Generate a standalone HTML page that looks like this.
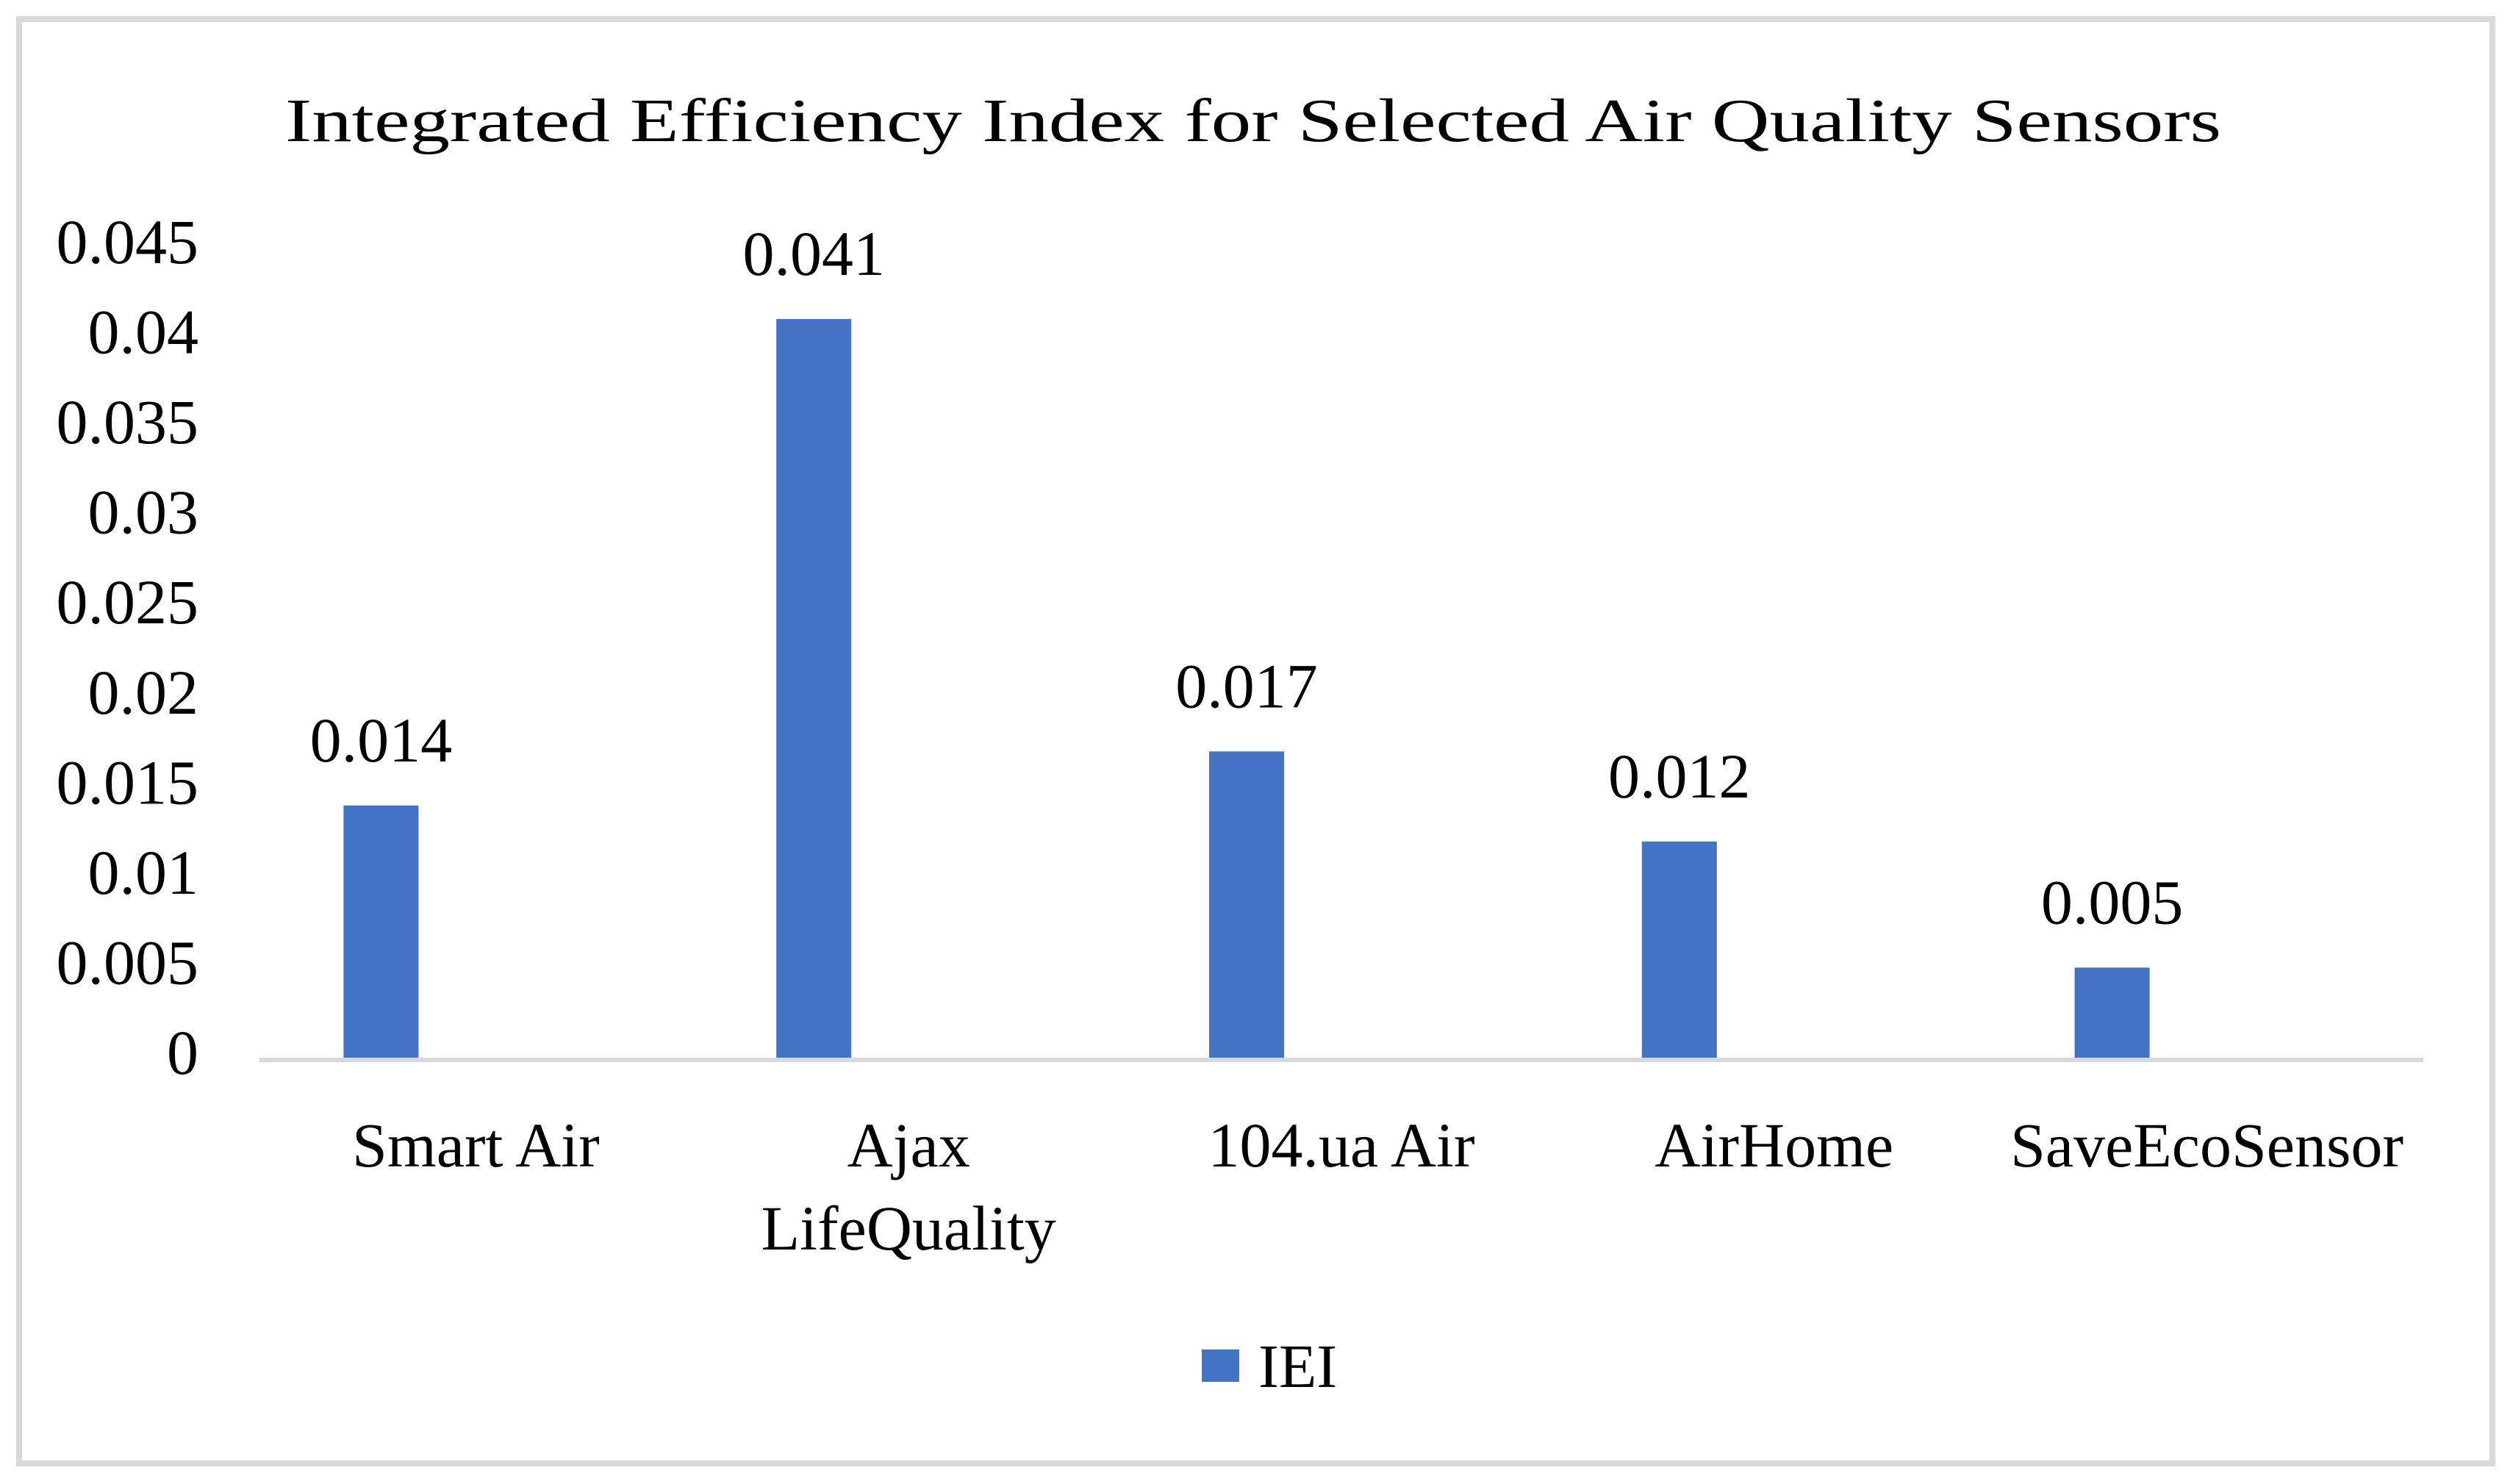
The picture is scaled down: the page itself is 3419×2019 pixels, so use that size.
<!DOCTYPE html>
<html><head><meta charset="utf-8"><style>
html,body{margin:0;padding:0;background:#fff;}
svg{display:block;}
text{font-family:"Liberation Serif",serif;fill:#000;}
</style></head><body>
<svg id="chart" width="3419" height="2019" viewBox="0 0 3419 2019" xmlns="http://www.w3.org/2000/svg">
<rect x="26" y="26" width="3365" height="1965" fill="#fff" stroke="#d9d9d9" stroke-width="8"/>
<text x="1705" y="192" font-size="84" text-anchor="middle" textLength="2634" lengthAdjust="spacingAndGlyphs">Integrated  Efficiency Index  for Selected Air Quality Sensors</text>
<g id="yaxis"></g>
<g id="bars"></g>
<g id="xaxis"></g>
<g>
<rect x="1635" y="1836" width="51" height="44" fill="#4472c4"/>
<text x="1712" y="1887" font-size="84">IEI</text>
</g>
</svg>
<script>
const categories = [["Smart Air"], ["Ajax", "LifeQuality"], ["104.ua Air"], ["AirHome"], ["SaveEcoSensor"]];
const values = [0.014, 0.041, 0.017, 0.012, 0.005];
const valueLabels = ["0.014", "0.041", "0.017", "0.012", "0.005"];
const yTicks = [0, 0.005, 0.01, 0.015, 0.02, 0.025, 0.03, 0.035, 0.04, 0.045];
const yTickLabels = ["0", "0.005", "0.01", "0.015", "0.02", "0.025", "0.03", "0.035", "0.04", "0.045"];

const NS = "http://www.w3.org/2000/svg";
const plotL = 353, plotR = 3297, baseY = 1439, topY = 336, yMax = 0.045;
const y = v => baseY - (v / yMax) * (baseY - topY);
const band = (plotR - plotL) / categories.length;
const xc = i => plotL + band * (i + 0.5);
const barW = 102, barOff = -129;

function mk(tag, attrs, parent) {
  const e = document.createElementNS(NS, tag);
  for (const k in attrs) e.setAttribute(k, attrs[k]);
  parent.appendChild(e);
  return e;
}
const yG = document.getElementById('yaxis');
yTicks.forEach((t, i) => {
  const tx = mk('text', {x: 270, y: y(t) + 22, 'font-size': 86, 'text-anchor': 'end'}, yG);
  
  
  tx.textContent = yTickLabels[i];
});
const bG = document.getElementById('bars');
values.forEach((v, i) => {
  const cx = xc(i) + barOff;
  const r = mk('rect', {x: cx - barW / 2, y: y(v), width: barW, height: baseY - y(v), fill: '#4472c4'}, bG);
  
  
  const t = mk('text', {x: cx, y: y(v) - 60, 'font-size': 86, 'text-anchor': 'middle'}, bG);
  
  
  t.textContent = valueLabels[i];
});
const xG = document.getElementById('xaxis');
const ax = mk('line', {x1: plotL, x2: plotR, y1: baseY + 3, y2: baseY + 3, stroke: '#d9d9d9', 'stroke-width': 6}, xG);


categories.forEach((lines, i) => {
  lines.forEach((ln, j) => {
    const t = mk('text', {x: xc(i), y: 1587 + j * 113, 'font-size': 86, 'text-anchor': 'middle'}, xG);
    
    
    t.textContent = ln;
  });
});
</script>
</body></html>
